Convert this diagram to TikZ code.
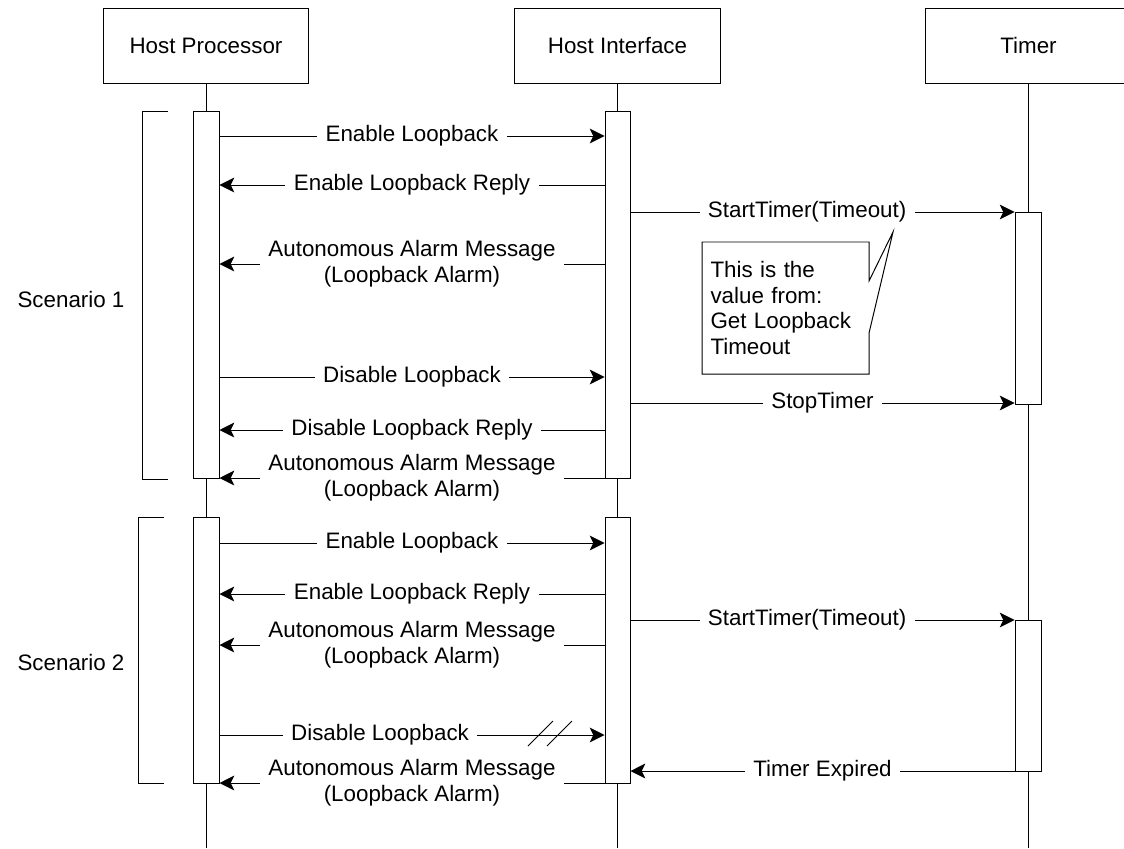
\documentclass[tikz,border=0pt]{standalone}
\usepackage{fontspec}
\setmainfont{Liberation Sans}
\usetikzlibrary{arrows.meta,fit}

\begin{document}
\begin{tikzpicture}[x=0.025cm,y=-0.025cm,line width=0.7pt,
  every node/.style={font=\fontsize{15.9}{18.3}\selectfont},
  head/.style={draw,rectangle,minimum width=5.125cm,minimum height=1.85cm,inner sep=0pt},
  bar/.style={draw,fill=white,rectangle,inner sep=0pt},
  msg/.style={-{Stealth[length=10.5pt,width=10.5pt,inset=2.5pt]}},
  lbl/.style={fill=white,inner ysep=1pt,inner xsep=6pt,align=center},
  note/.style={draw=none,align=left,anchor=north west,text width=3.75cm,inner xsep=0.2cm,minimum height=3.275cm}]
\useasboundingbox (0,0) rectangle (1124,848);

% lifelines
\foreach \name/\x/\txt in {hp/206/Host Processor, hi/617.5/Host Interface, tm/1028.5/Timer} {
  \node[head] (\name) at (\x,46) {\txt};
  \coordinate (\name end) at (\x,848);
  \draw (\name) -- (\name end);
}

% activation bars
\foreach \n/\xa/\ya/\xb/\yb in {hpA/193/111/219/478, hiA/605/111/630/478, tmA/1015/212/1041/404,
                                hpB/193/517/219/783, hiB/605/517/630/783, tmB/1015/620/1041/771} {
  \node[bar, fit={(\xa,\ya) (\xb,\yb)}] (\n) {};
}

% scenarios
\draw (168,111) -| (142,479) -- (168,479);
\draw (164,517) -| (138,783) -- (164,783);
\node (sc1) at (71,300) {Scenario 1};
\node (sc2) at (71,662) {Scenario 2};

% messages
\foreach \y/\a/\b/\p/\txt in {136/hpA.east/hiA.west/0.5/{Enable Loopback},
    185/hiA.west/hpA.east/0.5/{Enable Loopback Reply},
    212/hiA.east/tmA.west/0.46/{StartTimer(Timeout)},
    264/hiA.west/hpA.east/0.5/{Autonomous Alarm Message\\(Loopback Alarm)},
    377/hpA.east/hiA.west/0.5/{Disable Loopback},
    403/hiA.east/tmA.west/0.5/{StopTimer},
    430/hiA.west/hpA.east/0.5/{Disable Loopback Reply},
    478/hiA.west/hpA.east/0.5/{Autonomous Alarm Message\\(Loopback Alarm)},
    543/hpB.east/hiB.west/0.5/{Enable Loopback},
    594/hiB.west/hpB.east/0.5/{Enable Loopback Reply},
    620/hiB.east/tmB.west/0.46/{StartTimer(Timeout)},
    645/hiB.west/hpB.east/0.5/{Autonomous Alarm Message\\(Loopback Alarm)},
    735/hpB.east/hiB.west/0.417/{Disable Loopback},
    771/tmB.west/hiB.east/0.5/{Timer Expired},
    783/hiB.west/hpB.east/0.5/{Autonomous Alarm Message\\(Loopback Alarm)}} {
  \draw[msg] (\a |- 0,\y) -- (\b |- 0,\y) node[lbl,pos=\p] {\txt};
}
% lost message
\draw (528,746) -- (553,721);
\draw (547,746) -- (572,721);

% note
\node[note] (val) at (702,242) {This is the\\value from:\\Get Loopback\\Timeout};
\coordinate (tip) at (893,232);
\draw (val.north east) -- (val.east |- 0,281) -- (tip) -- (val.east |- 0,333)
  -- (val.south east) -| (val.north west) -- cycle;
\end{tikzpicture}
\end{document}
